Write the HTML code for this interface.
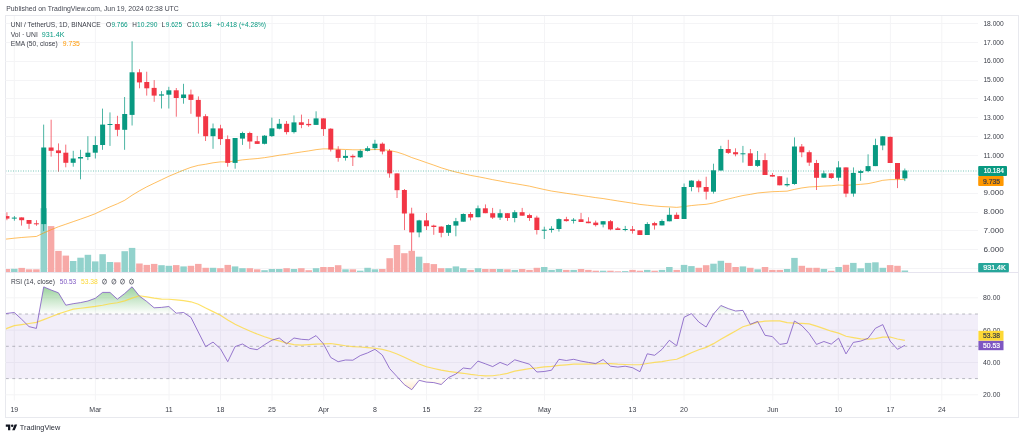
<!DOCTYPE html><html><head><meta charset="utf-8"><style>html,body{margin:0;padding:0;background:#fff;width:1024px;height:438px;overflow:hidden}svg{display:block;will-change:transform}text{font-family:"Liberation Sans",sans-serif}</style></head><body>
<svg width="1024" height="438" viewBox="0 0 1024 438">
<defs>
<clipPath id="main"><rect x="6.0" y="16.0" width="972.0" height="256.0"/></clipPath>
<clipPath id="rsi"><rect x="6.0" y="273.0" width="972.0" height="128.0"/></clipPath>
<clipPath id="ob"><rect x="5.5" y="273.0" width="972.5" height="40.96500000000003"/></clipPath>
<clipPath id="os"><rect x="5.5" y="378.63300000000004" width="972.5" height="22.366999999999962"/></clipPath>
<linearGradient id="gg" gradientUnits="userSpaceOnUse" x1="0" y1="265.464" x2="0" y2="313.96500000000003"><stop offset="0" stop-color="#4caf50" stop-opacity="1"/><stop offset="1" stop-color="#4caf50" stop-opacity="0"/></linearGradient>
<linearGradient id="rg" gradientUnits="userSpaceOnUse" x1="0" y1="378.63300000000004" x2="0" y2="427.134"><stop offset="0" stop-color="#ffa726" stop-opacity="0"/><stop offset="1" stop-color="#ffa726" stop-opacity="1"/></linearGradient>
</defs>
<rect width="1024" height="438" fill="#fff"/>
<text x="6.2" y="11.0" font-size="7.7" fill="#434651" text-anchor="start" textLength="172.6" lengthAdjust="spacingAndGlyphs" >Published on TradingView.com, Jun 19, 2024 02:38 UTC</text>
<rect x="5.5" y="15.5" width="1013" height="402" fill="none" stroke="#e8e9ee" stroke-width="1"/>
<line x1="5.5" y1="23.5" x2="978.0" y2="23.5" stroke="#f4f4f6" stroke-width="1"/>
<line x1="5.5" y1="42.5" x2="978.0" y2="42.5" stroke="#f4f4f6" stroke-width="1"/>
<line x1="5.5" y1="61.5" x2="978.0" y2="61.5" stroke="#f4f4f6" stroke-width="1"/>
<line x1="5.5" y1="80.5" x2="978.0" y2="80.5" stroke="#f4f4f6" stroke-width="1"/>
<line x1="5.5" y1="98.5" x2="978.0" y2="98.5" stroke="#f4f4f6" stroke-width="1"/>
<line x1="5.5" y1="117.5" x2="978.0" y2="117.5" stroke="#f4f4f6" stroke-width="1"/>
<line x1="5.5" y1="136.5" x2="978.0" y2="136.5" stroke="#f4f4f6" stroke-width="1"/>
<line x1="5.5" y1="155.5" x2="978.0" y2="155.5" stroke="#f4f4f6" stroke-width="1"/>
<line x1="5.5" y1="174.5" x2="978.0" y2="174.5" stroke="#f4f4f6" stroke-width="1"/>
<line x1="5.5" y1="193.5" x2="978.0" y2="193.5" stroke="#f4f4f6" stroke-width="1"/>
<line x1="5.5" y1="212.5" x2="978.0" y2="212.5" stroke="#f4f4f6" stroke-width="1"/>
<line x1="5.5" y1="230.5" x2="978.0" y2="230.5" stroke="#f4f4f6" stroke-width="1"/>
<line x1="5.5" y1="249.5" x2="978.0" y2="249.5" stroke="#f4f4f6" stroke-width="1"/>
<line x1="5.5" y1="268.5" x2="978.0" y2="268.5" stroke="#f4f4f6" stroke-width="1"/>
<line x1="14.3" y1="16.0" x2="14.3" y2="400.5" stroke="#f4f4f6" stroke-width="1"/>
<line x1="95.4" y1="16.0" x2="95.4" y2="400.5" stroke="#f4f4f6" stroke-width="1"/>
<line x1="169.0" y1="16.0" x2="169.0" y2="400.5" stroke="#f4f4f6" stroke-width="1"/>
<line x1="220.5" y1="16.0" x2="220.5" y2="400.5" stroke="#f4f4f6" stroke-width="1"/>
<line x1="272.0" y1="16.0" x2="272.0" y2="400.5" stroke="#f4f4f6" stroke-width="1"/>
<line x1="323.7" y1="16.0" x2="323.7" y2="400.5" stroke="#f4f4f6" stroke-width="1"/>
<line x1="375.0" y1="16.0" x2="375.0" y2="400.5" stroke="#f4f4f6" stroke-width="1"/>
<line x1="426.5" y1="16.0" x2="426.5" y2="400.5" stroke="#f4f4f6" stroke-width="1"/>
<line x1="478.0" y1="16.0" x2="478.0" y2="400.5" stroke="#f4f4f6" stroke-width="1"/>
<line x1="544.5" y1="16.0" x2="544.5" y2="400.5" stroke="#f4f4f6" stroke-width="1"/>
<line x1="632.5" y1="16.0" x2="632.5" y2="400.5" stroke="#f4f4f6" stroke-width="1"/>
<line x1="684.0" y1="16.0" x2="684.0" y2="400.5" stroke="#f4f4f6" stroke-width="1"/>
<line x1="772.8" y1="16.0" x2="772.8" y2="400.5" stroke="#f4f4f6" stroke-width="1"/>
<line x1="838.3" y1="16.0" x2="838.3" y2="400.5" stroke="#f4f4f6" stroke-width="1"/>
<line x1="890.4" y1="16.0" x2="890.4" y2="400.5" stroke="#f4f4f6" stroke-width="1"/>
<line x1="941.8" y1="16.0" x2="941.8" y2="400.5" stroke="#f4f4f6" stroke-width="1"/>
<line x1="5.5" y1="297.8" x2="978.0" y2="297.8" stroke="#f4f4f6" stroke-width="1"/>
<line x1="5.5" y1="330.1" x2="978.0" y2="330.1" stroke="#f4f4f6" stroke-width="1"/>
<line x1="5.5" y1="362.5" x2="978.0" y2="362.5" stroke="#f4f4f6" stroke-width="1"/>
<line x1="5.5" y1="394.8" x2="978.0" y2="394.8" stroke="#f4f4f6" stroke-width="1"/>
<line x1="5.5" y1="272.5" x2="1018.5" y2="272.5" stroke="#e6e4ef" stroke-width="1"/>
<g clip-path="url(#main)">
<rect x="3.69" y="269.0" width="6.5" height="3.2" fill="#f7a9a7"/>
<rect x="11.05" y="268.8" width="6.5" height="3.4" fill="#92d2cc"/>
<rect x="18.41" y="267.9" width="6.5" height="4.3" fill="#f7a9a7"/>
<rect x="25.77" y="269.3" width="6.5" height="2.9" fill="#f7a9a7"/>
<rect x="33.13" y="269.3" width="6.5" height="2.9" fill="#f7a9a7"/>
<rect x="40.49" y="208.2" width="6.5" height="64.0" fill="#92d2cc"/>
<rect x="47.85" y="226.1" width="6.5" height="46.1" fill="#f7a9a7"/>
<rect x="55.21" y="250.9" width="6.5" height="21.3" fill="#f7a9a7"/>
<rect x="62.57" y="255.6" width="6.5" height="16.6" fill="#f7a9a7"/>
<rect x="69.93" y="261.0" width="6.5" height="11.2" fill="#92d2cc"/>
<rect x="77.29" y="257.7" width="6.5" height="14.5" fill="#92d2cc"/>
<rect x="84.65" y="254.8" width="6.5" height="17.4" fill="#92d2cc"/>
<rect x="92.01" y="261.4" width="6.5" height="10.8" fill="#92d2cc"/>
<rect x="99.37" y="254.2" width="6.5" height="18.0" fill="#92d2cc"/>
<rect x="106.73" y="262.0" width="6.5" height="10.2" fill="#92d2cc"/>
<rect x="114.09" y="262.3" width="6.5" height="9.9" fill="#f7a9a7"/>
<rect x="121.45" y="251.2" width="6.5" height="21.0" fill="#92d2cc"/>
<rect x="128.81" y="247.9" width="6.5" height="24.3" fill="#92d2cc"/>
<rect x="136.17" y="263.5" width="6.5" height="8.7" fill="#f7a9a7"/>
<rect x="143.53" y="264.9" width="6.5" height="7.3" fill="#f7a9a7"/>
<rect x="150.89" y="263.9" width="6.5" height="8.3" fill="#f7a9a7"/>
<rect x="158.25" y="265.2" width="6.5" height="7.0" fill="#92d2cc"/>
<rect x="165.61" y="265.8" width="6.5" height="6.4" fill="#92d2cc"/>
<rect x="172.97" y="265.1" width="6.5" height="7.1" fill="#f7a9a7"/>
<rect x="180.33" y="266.4" width="6.5" height="5.8" fill="#92d2cc"/>
<rect x="187.69" y="265.8" width="6.5" height="6.4" fill="#f7a9a7"/>
<rect x="195.05" y="263.9" width="6.5" height="8.3" fill="#f7a9a7"/>
<rect x="202.41" y="267.8" width="6.5" height="4.4" fill="#f7a9a7"/>
<rect x="209.77" y="267.8" width="6.5" height="4.4" fill="#92d2cc"/>
<rect x="217.13" y="268.2" width="6.5" height="4.0" fill="#f7a9a7"/>
<rect x="224.49" y="264.9" width="6.5" height="7.3" fill="#f7a9a7"/>
<rect x="231.85" y="266.4" width="6.5" height="5.8" fill="#92d2cc"/>
<rect x="239.21" y="268.2" width="6.5" height="4.0" fill="#92d2cc"/>
<rect x="246.57" y="268.2" width="6.5" height="4.0" fill="#f7a9a7"/>
<rect x="253.93" y="269.3" width="6.5" height="2.9" fill="#f7a9a7"/>
<rect x="261.29" y="270.2" width="6.5" height="2.0" fill="#92d2cc"/>
<rect x="268.65" y="269.0" width="6.5" height="3.2" fill="#92d2cc"/>
<rect x="276.01" y="269.0" width="6.5" height="3.2" fill="#92d2cc"/>
<rect x="283.37" y="268.2" width="6.5" height="4.0" fill="#f7a9a7"/>
<rect x="290.73" y="269.0" width="6.5" height="3.2" fill="#92d2cc"/>
<rect x="298.09" y="268.2" width="6.5" height="4.0" fill="#f7a9a7"/>
<rect x="305.45" y="270.2" width="6.5" height="2.0" fill="#f7a9a7"/>
<rect x="312.81" y="268.2" width="6.5" height="4.0" fill="#92d2cc"/>
<rect x="320.17" y="267.0" width="6.5" height="5.2" fill="#f7a9a7"/>
<rect x="327.53" y="267.0" width="6.5" height="5.2" fill="#f7a9a7"/>
<rect x="334.89" y="265.2" width="6.5" height="7.0" fill="#f7a9a7"/>
<rect x="342.25" y="269.3" width="6.5" height="2.9" fill="#92d2cc"/>
<rect x="349.61" y="269.3" width="6.5" height="2.9" fill="#f7a9a7"/>
<rect x="356.97" y="270.7" width="6.5" height="1.5" fill="#92d2cc"/>
<rect x="364.33" y="267.8" width="6.5" height="4.4" fill="#92d2cc"/>
<rect x="371.69" y="269.3" width="6.5" height="2.9" fill="#92d2cc"/>
<rect x="379.05" y="269.0" width="6.5" height="3.2" fill="#f7a9a7"/>
<rect x="386.41" y="258.2" width="6.5" height="14.0" fill="#f7a9a7"/>
<rect x="393.77" y="245.0" width="6.5" height="27.2" fill="#f7a9a7"/>
<rect x="401.13" y="253.2" width="6.5" height="19.0" fill="#f7a9a7"/>
<rect x="408.49" y="250.8" width="6.5" height="21.4" fill="#f7a9a7"/>
<rect x="415.85" y="256.7" width="6.5" height="15.5" fill="#92d2cc"/>
<rect x="423.21" y="263.1" width="6.5" height="9.1" fill="#f7a9a7"/>
<rect x="430.57" y="264.1" width="6.5" height="8.1" fill="#f7a9a7"/>
<rect x="437.93" y="268.2" width="6.5" height="4.0" fill="#f7a9a7"/>
<rect x="445.29" y="268.2" width="6.5" height="4.0" fill="#92d2cc"/>
<rect x="452.65" y="266.4" width="6.5" height="5.8" fill="#92d2cc"/>
<rect x="460.01" y="268.2" width="6.5" height="4.0" fill="#92d2cc"/>
<rect x="467.37" y="269.9" width="6.5" height="2.3" fill="#f7a9a7"/>
<rect x="474.73" y="268.2" width="6.5" height="4.0" fill="#92d2cc"/>
<rect x="482.09" y="269.0" width="6.5" height="3.2" fill="#f7a9a7"/>
<rect x="489.45" y="269.0" width="6.5" height="3.2" fill="#f7a9a7"/>
<rect x="496.81" y="269.0" width="6.5" height="3.2" fill="#92d2cc"/>
<rect x="504.17" y="269.3" width="6.5" height="2.9" fill="#f7a9a7"/>
<rect x="511.53" y="269.9" width="6.5" height="2.3" fill="#92d2cc"/>
<rect x="518.89" y="269.0" width="6.5" height="3.2" fill="#f7a9a7"/>
<rect x="526.25" y="269.9" width="6.5" height="2.3" fill="#f7a9a7"/>
<rect x="533.61" y="267.8" width="6.5" height="4.4" fill="#f7a9a7"/>
<rect x="540.97" y="267.0" width="6.5" height="5.2" fill="#92d2cc"/>
<rect x="548.33" y="269.9" width="6.5" height="2.3" fill="#92d2cc"/>
<rect x="555.69" y="269.0" width="6.5" height="3.2" fill="#92d2cc"/>
<rect x="563.05" y="269.9" width="6.5" height="2.3" fill="#f7a9a7"/>
<rect x="570.41" y="269.9" width="6.5" height="2.3" fill="#92d2cc"/>
<rect x="577.77" y="269.0" width="6.5" height="3.2" fill="#f7a9a7"/>
<rect x="585.13" y="269.9" width="6.5" height="2.3" fill="#f7a9a7"/>
<rect x="592.49" y="270.7" width="6.5" height="1.5" fill="#f7a9a7"/>
<rect x="599.85" y="270.7" width="6.5" height="1.5" fill="#92d2cc"/>
<rect x="607.21" y="270.7" width="6.5" height="1.5" fill="#f7a9a7"/>
<rect x="614.57" y="271.3" width="6.5" height="0.9" fill="#f7a9a7"/>
<rect x="621.93" y="271.1" width="6.5" height="1.1" fill="#92d2cc"/>
<rect x="629.29" y="269.9" width="6.5" height="2.3" fill="#f7a9a7"/>
<rect x="636.65" y="270.7" width="6.5" height="1.5" fill="#f7a9a7"/>
<rect x="644.01" y="269.9" width="6.5" height="2.3" fill="#92d2cc"/>
<rect x="651.37" y="270.7" width="6.5" height="1.5" fill="#f7a9a7"/>
<rect x="658.73" y="269.9" width="6.5" height="2.3" fill="#92d2cc"/>
<rect x="666.09" y="267.0" width="6.5" height="5.2" fill="#92d2cc"/>
<rect x="673.45" y="269.9" width="6.5" height="2.3" fill="#f7a9a7"/>
<rect x="680.81" y="264.9" width="6.5" height="7.3" fill="#92d2cc"/>
<rect x="688.17" y="266.1" width="6.5" height="6.1" fill="#92d2cc"/>
<rect x="695.53" y="267.8" width="6.5" height="4.4" fill="#f7a9a7"/>
<rect x="702.89" y="265.2" width="6.5" height="7.0" fill="#f7a9a7"/>
<rect x="710.25" y="263.7" width="6.5" height="8.5" fill="#92d2cc"/>
<rect x="717.61" y="260.8" width="6.5" height="11.4" fill="#92d2cc"/>
<rect x="724.97" y="262.9" width="6.5" height="9.3" fill="#f7a9a7"/>
<rect x="732.33" y="267.0" width="6.5" height="5.2" fill="#f7a9a7"/>
<rect x="739.69" y="266.4" width="6.5" height="5.8" fill="#92d2cc"/>
<rect x="747.05" y="267.8" width="6.5" height="4.4" fill="#f7a9a7"/>
<rect x="754.41" y="269.3" width="6.5" height="2.9" fill="#92d2cc"/>
<rect x="761.77" y="267.0" width="6.5" height="5.2" fill="#f7a9a7"/>
<rect x="769.13" y="269.9" width="6.5" height="2.3" fill="#f7a9a7"/>
<rect x="776.49" y="269.9" width="6.5" height="2.3" fill="#f7a9a7"/>
<rect x="783.85" y="269.0" width="6.5" height="3.2" fill="#92d2cc"/>
<rect x="791.21" y="257.9" width="6.5" height="14.3" fill="#92d2cc"/>
<rect x="798.57" y="265.8" width="6.5" height="6.4" fill="#f7a9a7"/>
<rect x="805.93" y="267.8" width="6.5" height="4.4" fill="#f7a9a7"/>
<rect x="813.29" y="267.8" width="6.5" height="4.4" fill="#f7a9a7"/>
<rect x="820.65" y="268.9" width="6.5" height="3.3" fill="#92d2cc"/>
<rect x="828.01" y="270.8" width="6.5" height="1.4" fill="#f7a9a7"/>
<rect x="835.37" y="267.0" width="6.5" height="5.2" fill="#92d2cc"/>
<rect x="842.73" y="264.8" width="6.5" height="7.4" fill="#f7a9a7"/>
<rect x="850.09" y="262.9" width="6.5" height="9.3" fill="#92d2cc"/>
<rect x="857.45" y="268.3" width="6.5" height="3.9" fill="#92d2cc"/>
<rect x="864.81" y="262.9" width="6.5" height="9.3" fill="#92d2cc"/>
<rect x="872.17" y="262.3" width="6.5" height="9.9" fill="#92d2cc"/>
<rect x="879.53" y="267.8" width="6.5" height="4.4" fill="#92d2cc"/>
<rect x="886.89" y="265.1" width="6.5" height="7.1" fill="#f7a9a7"/>
<rect x="894.25" y="265.8" width="6.5" height="6.4" fill="#f7a9a7"/>
<rect x="901.61" y="270.5" width="6.5" height="1.7" fill="#92d2cc"/>
<polyline points="-0.42,239.22 6.94,239.03 14.30,238.19 21.66,237.49 29.02,236.95 36.38,236.45 43.74,232.97 51.10,229.74 58.46,226.74 65.82,224.23 73.18,221.65 80.54,219.12 87.90,216.51 95.26,213.71 102.62,210.21 109.98,206.83 117.34,203.81 124.70,200.29 132.06,195.27 139.42,190.84 146.78,186.82 154.14,183.25 161.50,179.76 168.86,176.25 176.22,173.18 183.58,170.10 190.94,167.35 198.30,165.36 205.66,164.22 213.02,162.81 220.38,161.88 227.74,161.92 235.10,160.98 242.46,159.89 249.82,159.17 257.18,158.57 264.54,157.67 271.90,156.52 279.26,155.24 286.62,154.33 293.98,153.08 301.34,151.97 308.70,150.92 316.06,149.65 323.42,148.84 330.78,148.87 338.14,149.22 345.50,149.48 352.86,149.79 360.22,149.83 367.58,149.77 374.94,149.53 382.30,149.61 389.66,150.54 397.02,152.10 404.38,154.50 411.74,157.56 419.10,160.02 426.46,162.62 433.82,165.14 441.18,167.80 448.54,170.04 455.90,172.05 463.26,173.69 470.62,175.41 477.98,176.70 485.34,178.13 492.70,179.68 500.06,180.99 507.42,182.44 514.78,183.61 522.14,184.87 529.50,186.17 536.86,187.89 544.22,189.53 551.58,191.06 558.94,192.16 566.30,193.30 573.66,194.33 581.02,195.42 588.38,196.51 595.74,197.63 603.10,198.55 610.46,199.76 617.82,200.95 625.18,202.05 632.54,203.18 639.90,204.42 647.26,205.19 654.62,205.98 661.98,206.57 669.34,206.90 676.70,207.37 684.06,206.57 691.42,205.55 698.78,204.84 706.14,204.33 713.50,202.99 720.86,200.87 728.22,198.99 735.58,197.24 742.94,195.52 750.30,194.36 757.66,193.01 765.02,192.31 772.38,191.69 779.74,191.44 787.10,191.15 794.46,189.40 801.82,187.94 809.18,186.95 816.54,186.59 823.90,186.07 831.26,185.76 838.62,185.04 845.98,185.37 853.34,184.88 860.70,184.34 868.06,183.63 875.42,182.12 882.78,180.32 890.14,179.64 897.50,179.61 904.86,179.25" fill="none" stroke="#ff9800" stroke-width="1" stroke-opacity="0.62"/>
<rect x="6.58" y="212.3" width="0.72" height="7.9" fill="#f23645"/>
<rect x="4.44" y="216.1" width="5" height="2.5" fill="#f23645"/>
<rect x="13.94" y="216.0" width="0.72" height="4.7" fill="#089981"/>
<rect x="11.80" y="217.6" width="5" height="1.0" fill="#089981"/>
<rect x="21.30" y="217.4" width="0.72" height="8.2" fill="#f23645"/>
<rect x="19.16" y="217.4" width="5" height="2.8" fill="#f23645"/>
<rect x="28.66" y="220.0" width="0.72" height="8.9" fill="#f23645"/>
<rect x="26.52" y="220.0" width="5" height="3.8" fill="#f23645"/>
<rect x="36.02" y="220.2" width="0.72" height="5.6" fill="#f23645"/>
<rect x="33.88" y="223.3" width="5" height="1.0" fill="#f23645"/>
<rect x="43.38" y="124.6" width="0.72" height="106.3" fill="#089981"/>
<rect x="41.24" y="147.5" width="5" height="76.6" fill="#089981"/>
<rect x="50.74" y="119.7" width="0.72" height="36.9" fill="#f23645"/>
<rect x="48.60" y="147.5" width="5" height="3.3" fill="#f23645"/>
<rect x="58.10" y="143.4" width="0.72" height="28.3" fill="#f23645"/>
<rect x="55.96" y="150.4" width="5" height="2.7" fill="#f23645"/>
<rect x="65.46" y="144.6" width="0.72" height="22.7" fill="#f23645"/>
<rect x="63.32" y="152.7" width="5" height="10.1" fill="#f23645"/>
<rect x="72.82" y="150.8" width="0.72" height="15.9" fill="#089981"/>
<rect x="70.68" y="158.5" width="5" height="4.3" fill="#089981"/>
<rect x="80.18" y="149.8" width="0.72" height="29.5" fill="#089981"/>
<rect x="78.04" y="157.0" width="5" height="1.5" fill="#089981"/>
<rect x="87.54" y="136.2" width="0.72" height="23.9" fill="#089981"/>
<rect x="85.40" y="152.7" width="5" height="4.3" fill="#089981"/>
<rect x="94.90" y="136.2" width="0.72" height="22.3" fill="#089981"/>
<rect x="92.76" y="145.0" width="5" height="7.7" fill="#089981"/>
<rect x="102.26" y="108.6" width="0.72" height="41.2" fill="#089981"/>
<rect x="100.12" y="124.6" width="5" height="20.4" fill="#089981"/>
<rect x="109.62" y="112.4" width="0.72" height="33.5" fill="#089981"/>
<rect x="107.48" y="124.0" width="5" height="1.0" fill="#089981"/>
<rect x="116.98" y="115.8" width="0.72" height="20.4" fill="#f23645"/>
<rect x="114.84" y="124.0" width="5" height="5.8" fill="#f23645"/>
<rect x="124.34" y="97.0" width="0.72" height="52.8" fill="#089981"/>
<rect x="122.20" y="114.0" width="5" height="15.8" fill="#089981"/>
<rect x="131.70" y="41.3" width="0.72" height="84.2" fill="#089981"/>
<rect x="129.56" y="72.3" width="5" height="42.6" fill="#089981"/>
<rect x="139.06" y="69.2" width="0.72" height="19.1" fill="#f23645"/>
<rect x="136.92" y="72.3" width="5" height="10.1" fill="#f23645"/>
<rect x="146.42" y="71.7" width="0.72" height="23.9" fill="#f23645"/>
<rect x="144.28" y="82.0" width="5" height="6.3" fill="#f23645"/>
<rect x="153.78" y="80.1" width="0.72" height="21.7" fill="#f23645"/>
<rect x="151.64" y="87.9" width="5" height="7.7" fill="#f23645"/>
<rect x="161.14" y="91.1" width="0.72" height="17.4" fill="#089981"/>
<rect x="159.00" y="94.4" width="5" height="1.2" fill="#089981"/>
<rect x="168.50" y="86.8" width="0.72" height="21.7" fill="#089981"/>
<rect x="166.36" y="90.3" width="5" height="4.4" fill="#089981"/>
<rect x="175.86" y="88.0" width="0.72" height="28.7" fill="#f23645"/>
<rect x="173.72" y="90.3" width="5" height="7.7" fill="#f23645"/>
<rect x="183.22" y="83.8" width="0.72" height="19.9" fill="#089981"/>
<rect x="181.08" y="94.5" width="5" height="3.5" fill="#089981"/>
<rect x="190.58" y="89.6" width="0.72" height="24.2" fill="#f23645"/>
<rect x="188.44" y="94.5" width="5" height="5.4" fill="#f23645"/>
<rect x="197.94" y="96.4" width="0.72" height="37.2" fill="#f23645"/>
<rect x="195.80" y="99.9" width="5" height="16.8" fill="#f23645"/>
<rect x="205.30" y="114.2" width="0.72" height="26.8" fill="#f23645"/>
<rect x="203.16" y="116.2" width="5" height="20.0" fill="#f23645"/>
<rect x="212.66" y="123.5" width="0.72" height="25.3" fill="#089981"/>
<rect x="210.52" y="128.4" width="5" height="7.8" fill="#089981"/>
<rect x="220.02" y="124.8" width="0.72" height="20.1" fill="#f23645"/>
<rect x="217.88" y="128.4" width="5" height="10.7" fill="#f23645"/>
<rect x="227.38" y="135.4" width="0.72" height="31.3" fill="#f23645"/>
<rect x="225.24" y="139.1" width="5" height="23.8" fill="#f23645"/>
<rect x="234.74" y="138.0" width="0.72" height="30.7" fill="#089981"/>
<rect x="232.60" y="138.0" width="5" height="24.9" fill="#089981"/>
<rect x="242.10" y="131.7" width="0.72" height="13.2" fill="#089981"/>
<rect x="239.96" y="133.0" width="5" height="5.6" fill="#089981"/>
<rect x="249.46" y="131.7" width="0.72" height="17.1" fill="#f23645"/>
<rect x="247.32" y="133.0" width="5" height="8.5" fill="#f23645"/>
<rect x="256.82" y="135.9" width="0.72" height="8.0" fill="#f23645"/>
<rect x="254.68" y="141.2" width="5" height="2.7" fill="#f23645"/>
<rect x="264.18" y="135.1" width="0.72" height="9.3" fill="#089981"/>
<rect x="262.04" y="135.7" width="5" height="8.1" fill="#089981"/>
<rect x="271.54" y="117.6" width="0.72" height="19.4" fill="#089981"/>
<rect x="269.40" y="128.3" width="5" height="7.8" fill="#089981"/>
<rect x="278.90" y="119.0" width="0.72" height="10.3" fill="#089981"/>
<rect x="276.76" y="123.8" width="5" height="4.9" fill="#089981"/>
<rect x="286.26" y="121.0" width="0.72" height="13.4" fill="#f23645"/>
<rect x="284.12" y="123.8" width="5" height="8.3" fill="#f23645"/>
<rect x="293.62" y="115.4" width="0.72" height="18.1" fill="#089981"/>
<rect x="291.48" y="122.4" width="5" height="9.7" fill="#089981"/>
<rect x="300.98" y="114.6" width="0.72" height="13.6" fill="#f23645"/>
<rect x="298.84" y="122.3" width="5" height="2.6" fill="#f23645"/>
<rect x="308.34" y="119.0" width="0.72" height="7.8" fill="#f23645"/>
<rect x="306.20" y="123.9" width="5" height="1.3" fill="#f23645"/>
<rect x="315.70" y="111.3" width="0.72" height="13.7" fill="#089981"/>
<rect x="313.56" y="118.4" width="5" height="6.5" fill="#089981"/>
<rect x="323.06" y="118.4" width="0.72" height="17.5" fill="#f23645"/>
<rect x="320.92" y="118.4" width="5" height="10.7" fill="#f23645"/>
<rect x="330.42" y="128.2" width="0.72" height="23.3" fill="#f23645"/>
<rect x="328.28" y="128.7" width="5" height="20.8" fill="#f23645"/>
<rect x="337.78" y="146.2" width="0.72" height="15.5" fill="#f23645"/>
<rect x="335.64" y="149.5" width="5" height="8.4" fill="#f23645"/>
<rect x="345.14" y="150.1" width="0.72" height="10.5" fill="#089981"/>
<rect x="343.00" y="155.9" width="5" height="2.0" fill="#089981"/>
<rect x="352.50" y="154.4" width="0.72" height="11.6" fill="#f23645"/>
<rect x="350.36" y="155.9" width="5" height="1.4" fill="#f23645"/>
<rect x="359.86" y="149.5" width="0.72" height="8.4" fill="#089981"/>
<rect x="357.72" y="150.9" width="5" height="6.4" fill="#089981"/>
<rect x="367.22" y="146.2" width="0.72" height="5.3" fill="#089981"/>
<rect x="365.08" y="148.2" width="5" height="2.7" fill="#089981"/>
<rect x="374.58" y="139.8" width="0.72" height="10.3" fill="#089981"/>
<rect x="372.44" y="143.7" width="5" height="4.5" fill="#089981"/>
<rect x="381.94" y="142.4" width="0.72" height="12.0" fill="#f23645"/>
<rect x="379.80" y="143.7" width="5" height="7.8" fill="#f23645"/>
<rect x="389.30" y="149.0" width="0.72" height="28.7" fill="#f23645"/>
<rect x="387.16" y="150.9" width="5" height="22.5" fill="#f23645"/>
<rect x="396.66" y="173.4" width="0.72" height="24.6" fill="#f23645"/>
<rect x="394.52" y="173.4" width="5" height="16.8" fill="#f23645"/>
<rect x="404.02" y="189.0" width="0.72" height="41.1" fill="#f23645"/>
<rect x="401.88" y="190.0" width="5" height="23.5" fill="#f23645"/>
<rect x="411.38" y="207.7" width="0.72" height="43.2" fill="#f23645"/>
<rect x="409.24" y="213.5" width="5" height="18.9" fill="#f23645"/>
<rect x="418.74" y="219.8" width="0.72" height="17.5" fill="#089981"/>
<rect x="416.60" y="220.4" width="5" height="12.0" fill="#089981"/>
<rect x="426.10" y="213.0" width="0.72" height="17.1" fill="#f23645"/>
<rect x="423.96" y="220.4" width="5" height="5.8" fill="#f23645"/>
<rect x="433.46" y="224.7" width="0.72" height="10.1" fill="#f23645"/>
<rect x="431.32" y="225.6" width="5" height="1.4" fill="#f23645"/>
<rect x="440.82" y="226.2" width="0.72" height="11.1" fill="#f23645"/>
<rect x="438.68" y="226.6" width="5" height="6.2" fill="#f23645"/>
<rect x="448.18" y="224.3" width="0.72" height="11.6" fill="#089981"/>
<rect x="446.04" y="225.0" width="5" height="7.8" fill="#089981"/>
<rect x="455.54" y="217.9" width="0.72" height="18.4" fill="#089981"/>
<rect x="453.40" y="221.2" width="5" height="4.4" fill="#089981"/>
<rect x="462.90" y="213.4" width="0.72" height="8.3" fill="#089981"/>
<rect x="460.76" y="214.0" width="5" height="7.7" fill="#089981"/>
<rect x="470.26" y="212.0" width="0.72" height="8.4" fill="#f23645"/>
<rect x="468.12" y="214.0" width="5" height="3.5" fill="#f23645"/>
<rect x="477.62" y="205.5" width="0.72" height="11.7" fill="#089981"/>
<rect x="475.48" y="208.3" width="5" height="8.9" fill="#089981"/>
<rect x="484.98" y="204.4" width="0.72" height="8.8" fill="#f23645"/>
<rect x="482.84" y="208.3" width="5" height="4.9" fill="#f23645"/>
<rect x="492.34" y="207.9" width="0.72" height="11.1" fill="#f23645"/>
<rect x="490.20" y="213.2" width="5" height="4.4" fill="#f23645"/>
<rect x="499.70" y="209.3" width="0.72" height="10.7" fill="#089981"/>
<rect x="497.56" y="213.2" width="5" height="4.4" fill="#089981"/>
<rect x="507.06" y="213.2" width="0.72" height="7.7" fill="#f23645"/>
<rect x="504.92" y="213.2" width="5" height="4.8" fill="#f23645"/>
<rect x="514.42" y="210.2" width="0.72" height="12.1" fill="#089981"/>
<rect x="512.28" y="212.2" width="5" height="5.8" fill="#089981"/>
<rect x="521.78" y="207.9" width="0.72" height="7.8" fill="#f23645"/>
<rect x="519.64" y="212.2" width="5" height="3.5" fill="#f23645"/>
<rect x="529.14" y="213.7" width="0.72" height="7.2" fill="#f23645"/>
<rect x="527.00" y="215.1" width="5" height="2.9" fill="#f23645"/>
<rect x="536.50" y="215.7" width="0.72" height="18.8" fill="#f23645"/>
<rect x="534.36" y="217.6" width="5" height="12.4" fill="#f23645"/>
<rect x="543.86" y="226.7" width="0.72" height="12.3" fill="#089981"/>
<rect x="541.72" y="229.7" width="5" height="1.0" fill="#089981"/>
<rect x="551.22" y="226.2" width="0.72" height="6.4" fill="#089981"/>
<rect x="549.08" y="228.7" width="5" height="1.3" fill="#089981"/>
<rect x="558.58" y="218.4" width="0.72" height="13.2" fill="#089981"/>
<rect x="556.44" y="219.1" width="5" height="9.9" fill="#089981"/>
<rect x="565.94" y="216.8" width="0.72" height="4.8" fill="#f23645"/>
<rect x="563.80" y="219.2" width="5" height="1.9" fill="#f23645"/>
<rect x="573.30" y="218.1" width="0.72" height="5.4" fill="#089981"/>
<rect x="571.16" y="219.7" width="5" height="1.1" fill="#089981"/>
<rect x="580.66" y="212.9" width="0.72" height="9.1" fill="#f23645"/>
<rect x="578.52" y="219.3" width="5" height="2.7" fill="#f23645"/>
<rect x="588.02" y="217.3" width="0.72" height="5.9" fill="#f23645"/>
<rect x="585.88" y="221.6" width="5" height="1.6" fill="#f23645"/>
<rect x="595.38" y="220.6" width="0.72" height="5.9" fill="#f23645"/>
<rect x="593.24" y="222.6" width="5" height="2.5" fill="#f23645"/>
<rect x="602.74" y="221.0" width="0.72" height="6.4" fill="#089981"/>
<rect x="600.60" y="221.2" width="5" height="3.3" fill="#089981"/>
<rect x="610.10" y="220.0" width="0.72" height="10.3" fill="#f23645"/>
<rect x="607.96" y="221.2" width="5" height="8.2" fill="#f23645"/>
<rect x="617.46" y="227.0" width="0.72" height="3.0" fill="#f23645"/>
<rect x="615.32" y="228.4" width="5" height="1.6" fill="#f23645"/>
<rect x="624.82" y="225.9" width="0.72" height="5.4" fill="#089981"/>
<rect x="622.68" y="229.0" width="5" height="1.0" fill="#089981"/>
<rect x="632.18" y="226.0" width="0.72" height="7.6" fill="#f23645"/>
<rect x="630.04" y="229.3" width="5" height="1.5" fill="#f23645"/>
<rect x="639.54" y="230.3" width="0.72" height="4.7" fill="#f23645"/>
<rect x="637.40" y="230.3" width="5" height="4.7" fill="#f23645"/>
<rect x="646.90" y="222.2" width="0.72" height="12.8" fill="#089981"/>
<rect x="644.76" y="224.0" width="5" height="11.0" fill="#089981"/>
<rect x="654.26" y="221.8" width="0.72" height="7.8" fill="#f23645"/>
<rect x="652.12" y="223.1" width="5" height="2.3" fill="#f23645"/>
<rect x="661.62" y="219.4" width="0.72" height="6.0" fill="#089981"/>
<rect x="659.48" y="221.0" width="5" height="4.4" fill="#089981"/>
<rect x="668.98" y="207.7" width="0.72" height="13.6" fill="#089981"/>
<rect x="666.84" y="214.8" width="5" height="6.5" fill="#089981"/>
<rect x="676.34" y="212.4" width="0.72" height="6.6" fill="#f23645"/>
<rect x="674.20" y="214.8" width="5" height="4.2" fill="#f23645"/>
<rect x="683.70" y="183.5" width="0.72" height="35.5" fill="#089981"/>
<rect x="681.56" y="187.0" width="5" height="32.0" fill="#089981"/>
<rect x="691.06" y="180.3" width="0.72" height="11.0" fill="#089981"/>
<rect x="688.92" y="180.6" width="5" height="6.4" fill="#089981"/>
<rect x="698.42" y="179.7" width="0.72" height="12.6" fill="#f23645"/>
<rect x="696.28" y="181.2" width="5" height="6.2" fill="#f23645"/>
<rect x="705.78" y="176.7" width="0.72" height="22.8" fill="#f23645"/>
<rect x="703.64" y="187.0" width="5" height="4.7" fill="#f23645"/>
<rect x="713.14" y="163.7" width="0.72" height="29.9" fill="#089981"/>
<rect x="711.00" y="170.3" width="5" height="21.4" fill="#089981"/>
<rect x="720.50" y="145.8" width="0.72" height="24.7" fill="#089981"/>
<rect x="718.36" y="149.0" width="5" height="21.5" fill="#089981"/>
<rect x="727.86" y="139.8" width="0.72" height="14.2" fill="#f23645"/>
<rect x="725.72" y="149.0" width="5" height="3.9" fill="#f23645"/>
<rect x="735.22" y="148.3" width="0.72" height="8.0" fill="#f23645"/>
<rect x="733.08" y="152.2" width="5" height="2.1" fill="#f23645"/>
<rect x="742.58" y="145.9" width="0.72" height="16.7" fill="#089981"/>
<rect x="740.44" y="153.3" width="5" height="1.0" fill="#089981"/>
<rect x="749.94" y="149.0" width="0.72" height="17.0" fill="#f23645"/>
<rect x="747.80" y="153.3" width="5" height="12.6" fill="#f23645"/>
<rect x="757.30" y="151.0" width="0.72" height="15.9" fill="#089981"/>
<rect x="755.16" y="160.1" width="5" height="5.8" fill="#089981"/>
<rect x="764.66" y="153.3" width="0.72" height="21.7" fill="#f23645"/>
<rect x="762.52" y="160.1" width="5" height="14.9" fill="#f23645"/>
<rect x="772.02" y="173.1" width="0.72" height="3.5" fill="#f23645"/>
<rect x="769.88" y="175.0" width="5" height="1.6" fill="#f23645"/>
<rect x="779.38" y="176.2" width="0.72" height="9.1" fill="#f23645"/>
<rect x="777.24" y="176.2" width="5" height="9.1" fill="#f23645"/>
<rect x="786.74" y="177.6" width="0.72" height="9.1" fill="#089981"/>
<rect x="784.60" y="184.0" width="5" height="1.3" fill="#089981"/>
<rect x="794.10" y="137.4" width="0.72" height="47.4" fill="#089981"/>
<rect x="791.96" y="146.5" width="5" height="37.5" fill="#089981"/>
<rect x="801.46" y="144.0" width="0.72" height="13.2" fill="#f23645"/>
<rect x="799.32" y="146.5" width="5" height="5.8" fill="#f23645"/>
<rect x="808.82" y="150.4" width="0.72" height="15.5" fill="#f23645"/>
<rect x="806.68" y="152.2" width="5" height="10.4" fill="#f23645"/>
<rect x="816.18" y="159.9" width="0.72" height="30.1" fill="#f23645"/>
<rect x="814.04" y="163.0" width="5" height="14.8" fill="#f23645"/>
<rect x="823.54" y="170.7" width="0.72" height="7.3" fill="#089981"/>
<rect x="821.40" y="173.4" width="5" height="4.3" fill="#089981"/>
<rect x="830.90" y="173.4" width="0.72" height="5.5" fill="#f23645"/>
<rect x="828.76" y="173.4" width="5" height="4.6" fill="#f23645"/>
<rect x="838.26" y="161.2" width="0.72" height="19.6" fill="#089981"/>
<rect x="836.12" y="167.4" width="5" height="10.3" fill="#089981"/>
<rect x="845.62" y="167.4" width="0.72" height="29.8" fill="#f23645"/>
<rect x="843.48" y="167.4" width="5" height="26.2" fill="#f23645"/>
<rect x="852.98" y="167.4" width="0.72" height="29.3" fill="#089981"/>
<rect x="850.84" y="172.9" width="5" height="20.7" fill="#089981"/>
<rect x="860.34" y="169.8" width="0.72" height="11.0" fill="#089981"/>
<rect x="858.20" y="171.1" width="5" height="1.8" fill="#089981"/>
<rect x="867.70" y="154.3" width="0.72" height="17.9" fill="#089981"/>
<rect x="865.56" y="166.1" width="5" height="5.0" fill="#089981"/>
<rect x="875.06" y="138.7" width="0.72" height="27.4" fill="#089981"/>
<rect x="872.92" y="145.1" width="5" height="21.0" fill="#089981"/>
<rect x="882.42" y="136.3" width="0.72" height="13.9" fill="#089981"/>
<rect x="880.28" y="136.3" width="5" height="9.2" fill="#089981"/>
<rect x="889.78" y="136.5" width="0.72" height="26.5" fill="#f23645"/>
<rect x="887.64" y="136.9" width="5" height="26.1" fill="#f23645"/>
<rect x="897.14" y="163.0" width="0.72" height="25.1" fill="#f23645"/>
<rect x="895.00" y="163.0" width="5" height="15.9" fill="#f23645"/>
<rect x="904.50" y="168.5" width="0.72" height="12.6" fill="#089981"/>
<rect x="902.36" y="170.5" width="5" height="7.9" fill="#089981"/>
<line x1="5.5" y1="171" x2="978.0" y2="171" stroke="#089981" stroke-width="1" stroke-dasharray="1 1.5" stroke-opacity="0.55"/>
</g>
<text x="10.7" y="26.8" font-size="7.7" fill="#3b3e48" text-anchor="start" textLength="90.1" lengthAdjust="spacingAndGlyphs" >UNI / TetherUS, 1D, BINANCE</text>
<text x="106.0" y="26.8" font-size="7.7" fill="#3b3e48" text-anchor="start" textLength="5.2" lengthAdjust="spacingAndGlyphs" >O</text>
<text x="111.4" y="26.8" font-size="7.7" fill="#089981" text-anchor="start" textLength="16.3" lengthAdjust="spacingAndGlyphs" >9.766</text>
<text x="132.2" y="26.8" font-size="7.7" fill="#3b3e48" text-anchor="start" textLength="4.6" lengthAdjust="spacingAndGlyphs" >H</text>
<text x="137.0" y="26.8" font-size="7.7" fill="#089981" text-anchor="start" textLength="20.4" lengthAdjust="spacingAndGlyphs" >10.290</text>
<text x="161.6" y="26.8" font-size="7.7" fill="#3b3e48" text-anchor="start" textLength="3.8" lengthAdjust="spacingAndGlyphs" >L</text>
<text x="165.8" y="26.8" font-size="7.7" fill="#089981" text-anchor="start" textLength="16.3" lengthAdjust="spacingAndGlyphs" >9.625</text>
<text x="187.0" y="26.8" font-size="7.7" fill="#3b3e48" text-anchor="start" textLength="4.6" lengthAdjust="spacingAndGlyphs" >C</text>
<text x="191.5" y="26.8" font-size="7.7" fill="#089981" text-anchor="start" textLength="20.2" lengthAdjust="spacingAndGlyphs" >10.184</text>
<text x="216.6" y="26.8" font-size="7.7" fill="#089981" text-anchor="start" textLength="49.4" lengthAdjust="spacingAndGlyphs" >+0.418 (+4.28%)</text>
<text x="10.7" y="36.5" font-size="7.7" fill="#3b3e48" text-anchor="start" textLength="27.1" lengthAdjust="spacingAndGlyphs" >Vol · UNI</text>
<text x="41.8" y="36.5" font-size="7.7" fill="#089981" text-anchor="start" textLength="22.6" lengthAdjust="spacingAndGlyphs" >931.4K</text>
<text x="10.7" y="46.3" font-size="7.7" fill="#3b3e48" text-anchor="start" textLength="47.0" lengthAdjust="spacingAndGlyphs" >EMA (50, close)</text>
<text x="62.8" y="46.3" font-size="7.7" fill="#ff9800" text-anchor="start" textLength="17.1" lengthAdjust="spacingAndGlyphs" >9.735</text>
<text x="983.4" y="25.7" font-size="7" fill="#3b3e48" text-anchor="start" textLength="20.4" lengthAdjust="spacingAndGlyphs" >18.000</text>
<text x="983.4" y="44.55" font-size="7" fill="#3b3e48" text-anchor="start" textLength="20.4" lengthAdjust="spacingAndGlyphs" >17.000</text>
<text x="983.4" y="63.400000000000006" font-size="7" fill="#3b3e48" text-anchor="start" textLength="20.4" lengthAdjust="spacingAndGlyphs" >16.000</text>
<text x="983.4" y="82.25" font-size="7" fill="#3b3e48" text-anchor="start" textLength="20.4" lengthAdjust="spacingAndGlyphs" >15.000</text>
<text x="983.4" y="101.10000000000001" font-size="7" fill="#3b3e48" text-anchor="start" textLength="20.4" lengthAdjust="spacingAndGlyphs" >14.000</text>
<text x="983.4" y="119.95" font-size="7" fill="#3b3e48" text-anchor="start" textLength="20.4" lengthAdjust="spacingAndGlyphs" >13.000</text>
<text x="983.4" y="138.8" font-size="7" fill="#3b3e48" text-anchor="start" textLength="20.4" lengthAdjust="spacingAndGlyphs" >12.000</text>
<text x="983.4" y="157.65" font-size="7" fill="#3b3e48" text-anchor="start" textLength="20.4" lengthAdjust="spacingAndGlyphs" >11.000</text>
<text x="983.4" y="195.35" font-size="7" fill="#3b3e48" text-anchor="start" textLength="20.4" lengthAdjust="spacingAndGlyphs" >9.000</text>
<text x="983.4" y="214.2" font-size="7" fill="#3b3e48" text-anchor="start" textLength="20.4" lengthAdjust="spacingAndGlyphs" >8.000</text>
<text x="983.4" y="233.05" font-size="7" fill="#3b3e48" text-anchor="start" textLength="20.4" lengthAdjust="spacingAndGlyphs" >7.000</text>
<text x="983.4" y="251.9" font-size="7" fill="#3b3e48" text-anchor="start" textLength="20.4" lengthAdjust="spacingAndGlyphs" >6.000</text>
<rect x="978.2" y="166" width="28.8" height="9.9" rx="1" fill="#089981"/>
<text x="983.7" y="173.4" font-size="7" fill="#fff" text-anchor="start" textLength="20.2" lengthAdjust="spacingAndGlyphs" stroke="#fff" stroke-width="0.22" >10.184</text>
<rect x="978.2" y="176.1" width="25.4" height="9.8" rx="1" fill="#ff9800"/>
<text x="983.0" y="183.5" font-size="7" fill="#3b3e48" text-anchor="start" textLength="17.2" lengthAdjust="spacingAndGlyphs" stroke="#3b3e48" stroke-width="0.22" >9.735</text>
<rect x="978.2" y="262.9" width="30.7" height="9.4" rx="1" fill="#26a69a"/>
<text x="983.3" y="270.1" font-size="7" fill="#fff" text-anchor="start" textLength="22.5" lengthAdjust="spacingAndGlyphs" stroke="#fff" stroke-width="0.22" >931.4K</text>
<g clip-path="url(#rsi)">
<rect x="5.5" y="314.0" width="972.5" height="64.7" fill="#7e57c2" fill-opacity="0.1"/>
<polygon points="-0.42,346.30 -0.42,313.40 6.94,313.40 14.30,312.50 21.66,319.30 29.02,326.60 36.38,328.40 43.74,286.90 51.10,290.00 58.46,292.80 65.82,305.20 73.18,303.70 80.54,302.60 87.90,301.00 95.26,298.30 102.62,292.40 109.98,292.40 117.34,299.20 124.70,293.50 132.06,286.80 139.42,296.10 146.78,301.50 154.14,307.80 161.50,307.40 168.86,306.50 176.22,313.20 183.58,312.50 190.94,317.40 198.30,332.00 205.66,346.60 213.02,342.10 220.38,348.70 227.74,361.70 235.10,346.60 242.46,344.00 249.82,348.40 257.18,349.70 264.54,344.70 271.90,340.20 279.26,338.00 286.62,343.80 293.98,338.00 301.34,339.30 308.70,339.80 316.06,335.60 323.42,343.80 330.78,357.50 338.14,361.70 345.50,360.00 352.86,360.20 360.22,355.60 367.58,352.90 374.94,349.30 382.30,355.00 389.66,368.60 397.02,376.60 404.38,384.70 411.74,389.70 419.10,380.30 426.46,382.10 433.82,382.60 441.18,384.50 448.54,377.60 455.90,374.00 463.26,368.00 470.62,368.90 477.98,361.10 485.34,363.80 492.70,366.60 500.06,362.40 507.42,365.30 514.78,359.80 522.14,362.00 529.50,364.20 536.86,372.00 544.22,371.50 551.58,370.20 558.94,359.30 566.30,360.50 573.66,359.30 581.02,361.10 588.38,362.40 595.74,363.60 603.10,359.50 610.46,366.20 617.82,367.10 625.18,366.20 632.54,367.70 639.90,371.70 647.26,353.80 654.62,355.30 661.98,349.40 669.34,340.30 676.70,345.80 684.06,317.30 691.42,313.60 698.78,322.00 706.14,327.00 713.50,314.00 720.86,305.50 728.22,308.60 735.58,311.00 742.94,310.40 750.30,324.30 757.66,321.40 765.02,335.30 772.38,336.60 779.74,344.40 787.10,343.30 794.46,321.00 801.82,325.60 809.18,333.50 816.54,344.40 823.90,341.50 831.26,344.10 838.62,338.20 845.98,353.90 853.34,342.40 860.70,341.10 868.06,338.30 875.42,328.30 882.78,324.60 890.14,341.10 897.50,349.30 904.86,345.30 904.86,346.30" fill="url(#gg)" clip-path="url(#ob)"/>
<polygon points="-0.42,346.30 -0.42,313.40 6.94,313.40 14.30,312.50 21.66,319.30 29.02,326.60 36.38,328.40 43.74,286.90 51.10,290.00 58.46,292.80 65.82,305.20 73.18,303.70 80.54,302.60 87.90,301.00 95.26,298.30 102.62,292.40 109.98,292.40 117.34,299.20 124.70,293.50 132.06,286.80 139.42,296.10 146.78,301.50 154.14,307.80 161.50,307.40 168.86,306.50 176.22,313.20 183.58,312.50 190.94,317.40 198.30,332.00 205.66,346.60 213.02,342.10 220.38,348.70 227.74,361.70 235.10,346.60 242.46,344.00 249.82,348.40 257.18,349.70 264.54,344.70 271.90,340.20 279.26,338.00 286.62,343.80 293.98,338.00 301.34,339.30 308.70,339.80 316.06,335.60 323.42,343.80 330.78,357.50 338.14,361.70 345.50,360.00 352.86,360.20 360.22,355.60 367.58,352.90 374.94,349.30 382.30,355.00 389.66,368.60 397.02,376.60 404.38,384.70 411.74,389.70 419.10,380.30 426.46,382.10 433.82,382.60 441.18,384.50 448.54,377.60 455.90,374.00 463.26,368.00 470.62,368.90 477.98,361.10 485.34,363.80 492.70,366.60 500.06,362.40 507.42,365.30 514.78,359.80 522.14,362.00 529.50,364.20 536.86,372.00 544.22,371.50 551.58,370.20 558.94,359.30 566.30,360.50 573.66,359.30 581.02,361.10 588.38,362.40 595.74,363.60 603.10,359.50 610.46,366.20 617.82,367.10 625.18,366.20 632.54,367.70 639.90,371.70 647.26,353.80 654.62,355.30 661.98,349.40 669.34,340.30 676.70,345.80 684.06,317.30 691.42,313.60 698.78,322.00 706.14,327.00 713.50,314.00 720.86,305.50 728.22,308.60 735.58,311.00 742.94,310.40 750.30,324.30 757.66,321.40 765.02,335.30 772.38,336.60 779.74,344.40 787.10,343.30 794.46,321.00 801.82,325.60 809.18,333.50 816.54,344.40 823.90,341.50 831.26,344.10 838.62,338.20 845.98,353.90 853.34,342.40 860.70,341.10 868.06,338.30 875.42,328.30 882.78,324.60 890.14,341.10 897.50,349.30 904.86,345.30 904.86,346.30" fill="url(#rg)" clip-path="url(#os)"/>
<line x1="5.88" y1="314.0" x2="978.0" y2="314.0" stroke="#787b86" stroke-opacity="0.5" stroke-width="1" stroke-dasharray="2.9 3.518"/>
<line x1="5.88" y1="346.3" x2="978.0" y2="346.3" stroke="#787b86" stroke-opacity="0.5" stroke-width="1" stroke-dasharray="2.9 3.518"/>
<line x1="5.88" y1="378.6" x2="978.0" y2="378.6" stroke="#787b86" stroke-opacity="0.5" stroke-width="1" stroke-dasharray="2.9 3.518"/>
<polyline points="5.50,329.30 6.94,328.37 14.30,325.64 21.66,324.55 29.02,323.48 36.38,322.42 43.74,319.60 51.10,316.74 58.46,313.89 65.82,311.51 73.18,309.18 80.54,308.27 87.90,307.37 95.26,306.46 102.62,305.22 109.98,303.72 117.34,302.77 124.70,300.93 132.06,298.09 139.42,295.78 146.78,296.82 154.14,298.09 161.50,299.14 168.86,299.23 176.22,299.91 183.58,300.61 190.94,301.79 198.30,304.19 205.66,308.06 213.02,311.61 220.38,315.15 227.74,320.02 235.10,324.29 242.46,327.71 249.82,331.06 257.18,334.06 264.54,336.72 271.90,339.13 279.26,340.90 286.62,343.14 293.98,344.61 301.34,345.13 308.70,344.64 316.06,344.18 323.42,343.83 330.78,343.53 338.14,344.61 345.50,345.75 352.86,346.59 360.22,347.01 367.58,347.60 374.94,348.25 382.30,349.46 389.66,351.24 397.02,353.99 404.38,357.24 411.74,360.80 419.10,363.99 426.46,366.73 433.82,368.52 441.18,370.15 448.54,371.41 455.90,372.39 463.26,373.28 470.62,374.42 477.98,375.26 485.34,375.89 492.70,375.75 500.06,374.74 507.42,373.35 514.78,371.21 522.14,369.91 529.50,368.63 536.86,367.87 544.22,366.94 551.58,366.41 558.94,365.36 566.30,364.83 573.66,364.14 581.02,364.14 588.38,364.04 595.74,363.83 603.10,363.62 610.46,363.69 617.82,364.21 625.18,364.51 632.54,364.76 639.90,364.74 647.26,363.47 654.62,362.41 661.98,361.70 669.34,360.26 676.70,359.29 684.06,356.16 691.42,352.68 698.78,349.71 706.14,347.39 713.50,343.66 720.86,339.26 728.22,335.14 735.58,331.09 742.94,326.71 750.30,324.61 757.66,322.19 765.02,321.18 772.38,320.91 779.74,320.81 787.10,322.67 794.46,323.20 801.82,323.46 809.18,323.92 816.54,326.09 823.90,328.66 831.26,331.20 838.62,333.14 845.98,336.25 853.34,337.54 860.70,338.95 868.06,339.16 875.42,338.57 882.78,337.16 890.14,337.00 897.50,339.02 904.86,340.43" fill="none" stroke="#fdd835" stroke-width="1.2" stroke-opacity="0.75"/>
<polyline points="5.50,313.60 6.94,313.40 14.30,312.50 21.66,319.30 29.02,326.60 36.38,328.40 43.74,286.90 51.10,290.00 58.46,292.80 65.82,305.20 73.18,303.70 80.54,302.60 87.90,301.00 95.26,298.30 102.62,292.40 109.98,292.40 117.34,299.20 124.70,293.50 132.06,286.80 139.42,296.10 146.78,301.50 154.14,307.80 161.50,307.40 168.86,306.50 176.22,313.20 183.58,312.50 190.94,317.40 198.30,332.00 205.66,346.60 213.02,342.10 220.38,348.70 227.74,361.70 235.10,346.60 242.46,344.00 249.82,348.40 257.18,349.70 264.54,344.70 271.90,340.20 279.26,338.00 286.62,343.80 293.98,338.00 301.34,339.30 308.70,339.80 316.06,335.60 323.42,343.80 330.78,357.50 338.14,361.70 345.50,360.00 352.86,360.20 360.22,355.60 367.58,352.90 374.94,349.30 382.30,355.00 389.66,368.60 397.02,376.60 404.38,384.70 411.74,389.70 419.10,380.30 426.46,382.10 433.82,382.60 441.18,384.50 448.54,377.60 455.90,374.00 463.26,368.00 470.62,368.90 477.98,361.10 485.34,363.80 492.70,366.60 500.06,362.40 507.42,365.30 514.78,359.80 522.14,362.00 529.50,364.20 536.86,372.00 544.22,371.50 551.58,370.20 558.94,359.30 566.30,360.50 573.66,359.30 581.02,361.10 588.38,362.40 595.74,363.60 603.10,359.50 610.46,366.20 617.82,367.10 625.18,366.20 632.54,367.70 639.90,371.70 647.26,353.80 654.62,355.30 661.98,349.40 669.34,340.30 676.70,345.80 684.06,317.30 691.42,313.60 698.78,322.00 706.14,327.00 713.50,314.00 720.86,305.50 728.22,308.60 735.58,311.00 742.94,310.40 750.30,324.30 757.66,321.40 765.02,335.30 772.38,336.60 779.74,344.40 787.10,343.30 794.46,321.00 801.82,325.60 809.18,333.50 816.54,344.40 823.90,341.50 831.26,344.10 838.62,338.20 845.98,353.90 853.34,342.40 860.70,341.10 868.06,338.30 875.42,328.30 882.78,324.60 890.14,341.10 897.50,349.30 904.86,345.30" fill="none" stroke="#7e57c2" stroke-width="1" stroke-opacity="0.8"/>
</g>
<text x="11.0" y="284.0" font-size="7.7" fill="#3b3e48" text-anchor="start" textLength="43.9" lengthAdjust="spacingAndGlyphs" >RSI (14, close)</text>
<text x="59.8" y="284.0" font-size="7.7" fill="#7e57c2" text-anchor="start" textLength="16.4" lengthAdjust="spacingAndGlyphs" >50.53</text>
<text x="80.9" y="284.0" font-size="7.7" fill="#fdd835" text-anchor="start" textLength="16.9" lengthAdjust="spacingAndGlyphs" >53.38</text>
<ellipse cx="104.5" cy="281.6" rx="2.0" ry="2.5" fill="none" stroke="#555862" stroke-width="0.8"/>
<line x1="103.1" y1="283.6" x2="105.9" y2="279.6" stroke="#555862" stroke-width="0.6"/>
<ellipse cx="113.9" cy="281.6" rx="2.0" ry="2.5" fill="none" stroke="#555862" stroke-width="0.8"/>
<line x1="112.5" y1="283.6" x2="115.30000000000001" y2="279.6" stroke="#555862" stroke-width="0.6"/>
<ellipse cx="122.5" cy="281.6" rx="2.0" ry="2.5" fill="none" stroke="#555862" stroke-width="0.8"/>
<line x1="121.1" y1="283.6" x2="123.9" y2="279.6" stroke="#555862" stroke-width="0.6"/>
<ellipse cx="131.5" cy="281.6" rx="2.0" ry="2.5" fill="none" stroke="#555862" stroke-width="0.8"/>
<line x1="130.1" y1="283.6" x2="132.9" y2="279.6" stroke="#555862" stroke-width="0.6"/>
<text x="983.0" y="300.298" font-size="7" fill="#3b3e48" text-anchor="start" textLength="17.4" lengthAdjust="spacingAndGlyphs" >80.00</text>
<text x="983.0" y="332.632" font-size="7" fill="#3b3e48" text-anchor="start" textLength="17.4" lengthAdjust="spacingAndGlyphs" >60.00</text>
<text x="983.0" y="364.966" font-size="7" fill="#3b3e48" text-anchor="start" textLength="17.4" lengthAdjust="spacingAndGlyphs" >40.00</text>
<text x="983.0" y="397.3" font-size="7" fill="#3b3e48" text-anchor="start" textLength="17.4" lengthAdjust="spacingAndGlyphs" >20.00</text>
<rect x="978.4" y="330.8" width="25.1" height="9.9" fill="#fdd835"/>
<text x="983.0" y="338.3" font-size="7" fill="#3b3e48" text-anchor="start" textLength="16.9" lengthAdjust="spacingAndGlyphs" stroke="#3b3e48" stroke-width="0.22" >53.38</text>
<rect x="978.4" y="340.9" width="25.1" height="9.3" fill="#7e57c2"/>
<text x="983.0" y="348.1" font-size="7" fill="#fff" text-anchor="start" textLength="16.9" lengthAdjust="spacingAndGlyphs" stroke="#fff" stroke-width="0.22" >50.53</text>
<text x="14.3" y="411.9" font-size="7" fill="#3b3e48" text-anchor="middle" >19</text>
<text x="95.4" y="411.9" font-size="7" fill="#3b3e48" text-anchor="middle" >Mar</text>
<text x="169.0" y="411.9" font-size="7" fill="#3b3e48" text-anchor="middle" >11</text>
<text x="220.5" y="411.9" font-size="7" fill="#3b3e48" text-anchor="middle" >18</text>
<text x="272.0" y="411.9" font-size="7" fill="#3b3e48" text-anchor="middle" >25</text>
<text x="323.7" y="411.9" font-size="7" fill="#3b3e48" text-anchor="middle" >Apr</text>
<text x="375.0" y="411.9" font-size="7" fill="#3b3e48" text-anchor="middle" >8</text>
<text x="426.5" y="411.9" font-size="7" fill="#3b3e48" text-anchor="middle" >15</text>
<text x="478.0" y="411.9" font-size="7" fill="#3b3e48" text-anchor="middle" >22</text>
<text x="544.5" y="411.9" font-size="7" fill="#3b3e48" text-anchor="middle" >May</text>
<text x="632.5" y="411.9" font-size="7" fill="#3b3e48" text-anchor="middle" >13</text>
<text x="684.0" y="411.9" font-size="7" fill="#3b3e48" text-anchor="middle" >20</text>
<text x="772.8" y="411.9" font-size="7" fill="#3b3e48" text-anchor="middle" >Jun</text>
<text x="838.3" y="411.9" font-size="7" fill="#3b3e48" text-anchor="middle" >10</text>
<text x="890.4" y="411.9" font-size="7" fill="#3b3e48" text-anchor="middle" >17</text>
<text x="941.8" y="411.9" font-size="7" fill="#3b3e48" text-anchor="middle" >24</text>
<g transform="translate(5.8,423.2) scale(0.32)" fill="#131722"><path d="M14 22H7V11H0V4h14v18zM28 22h-8l7.5-18h8L28 22z"/><circle cx="20" cy="8" r="4"/></g>
<text x="19.8" y="430.4" font-size="7.6" fill="#2a2e39" text-anchor="start" textLength="40.4" lengthAdjust="spacingAndGlyphs" >TradingView</text>
</svg></body></html>
